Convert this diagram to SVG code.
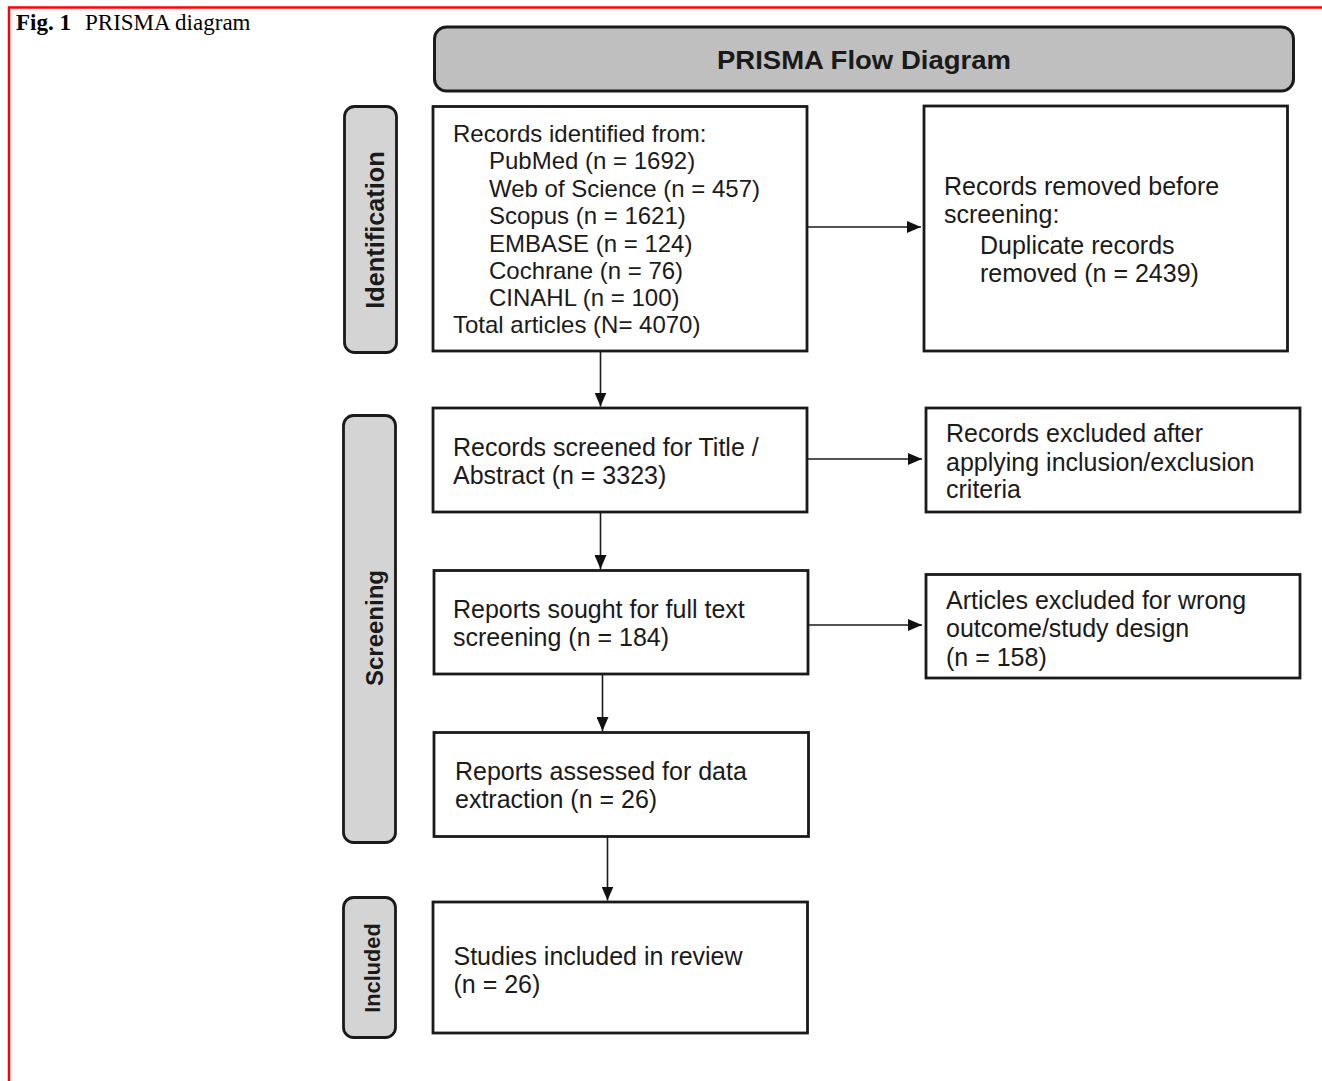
<svg xmlns="http://www.w3.org/2000/svg" width="1322" height="1081" viewBox="0 0 1322 1081">
<defs>
<marker id="ah" viewBox="0 0 14 12" refX="14" refY="6" markerWidth="14" markerHeight="12" markerUnits="userSpaceOnUse" orient="auto">
<path d="M0,0 L14,6 L0,12 Z" fill="#111"/>
</marker>
<style>
.box{fill:#fff;stroke:#1a1a1a;stroke-width:2.8}
.pill{fill:#d4d4d4;stroke:#1a1a1a;stroke-width:2.8}
.t{font-family:"Liberation Sans",Arial,sans-serif;font-size:25px;fill:#1a1a1a}
.t1{font-size:24px}
.pt{font-family:"Liberation Sans",Arial,sans-serif;font-size:24px;font-weight:bold;fill:#1a1a1a;text-anchor:middle}
.con{stroke:#1a1a1a;stroke-width:1.6;fill:none;marker-end:url(#ah)}
</style>
</defs>
<rect width="1322" height="1081" fill="#fff"/>
<path d="M1322,7.5 H9 V1081" fill="none" stroke="#f00" stroke-width="2.5"/>
<text x="16" y="30" font-family="Liberation Serif,Times New Roman,serif" font-size="23" fill="#000"><tspan font-weight="bold">Fig. 1</tspan><tspan x="85">PRISMA diagram</tspan></text>

<g id="title">
<rect x="434.5" y="27" width="859" height="64" rx="12" fill="#bfbfbf" stroke="#1a1a1a" stroke-width="3"/>
<text x="864" y="68.5" class="pt" style="font-size:26.5px" textLength="294" lengthAdjust="spacingAndGlyphs">PRISMA Flow Diagram</text>
</g>

<g id="identification">
<rect class="pill" x="344.5" y="106.5" width="52" height="246" rx="10"/>
<text class="pt" style="font-size:25.3px" transform="translate(384,230) rotate(-90)">Identification</text>
</g>
<g id="screening">
<rect class="pill" x="343.5" y="415.5" width="52" height="427" rx="10"/>
<text class="pt" transform="translate(383,628) rotate(-90)">Screening</text>
</g>
<g id="included">
<rect class="pill" x="343.5" y="897.5" width="52" height="140" rx="10"/>
<text class="pt" style="font-size:21.8px" transform="translate(380,968) rotate(-90)">Included</text>
</g>

<g id="records-identified">
<rect class="box" x="433" y="106.5" width="374" height="244.5"/>
<text class="t t1" x="453" y="141.5">Records identified from:</text>
<text class="t t1" x="489" y="168.5">PubMed (n = 1692)</text>
<text class="t t1" x="489" y="196.5">Web of Science (n = 457)</text>
<text class="t t1" x="489" y="223.5">Scopus (n = 1621)</text>
<text class="t t1" x="489" y="251.5">EMBASE (n = 124)</text>
<text class="t t1" x="489" y="278.5">Cochrane (n = 76)</text>
<text class="t t1" x="489" y="306">CINAHL (n = 100)</text>
<text class="t t1" x="453" y="333">Total articles (N= 4070)</text>
</g>
<g id="records-removed">
<rect class="box" x="924" y="106" width="363.5" height="245"/>
<text class="t" x="944" y="194.5">Records removed before</text>
<text class="t" x="944" y="223">screening:</text>
<text class="t" x="980" y="253.5">Duplicate records</text>
<text class="t" x="980" y="281.5">removed (n = 2439)</text>
</g>
<g id="records-screened">
<rect class="box" x="433" y="408" width="374" height="104"/>
<text class="t" x="453" y="455.5">Records screened for Title /</text>
<text class="t" x="453" y="484">Abstract (n = 3323)</text>
</g>
<g id="records-excluded">
<rect class="box" x="926" y="408" width="374" height="104"/>
<text class="t" x="946" y="442">Records excluded after</text>
<text class="t" x="946" y="470.5">applying inclusion/exclusion</text>
<text class="t" x="946" y="498">criteria</text>
</g>
<g id="reports-sought">
<rect class="box" x="434" y="570.5" width="374" height="103.5"/>
<text class="t" x="453" y="617.5">Reports sought for full text</text>
<text class="t" x="453" y="646">screening (n = 184)</text>
</g>
<g id="articles-excluded">
<rect class="box" x="926" y="574.5" width="374" height="103.5"/>
<text class="t" x="946" y="608.5">Articles excluded for wrong</text>
<text class="t" x="946" y="637">outcome/study design</text>
<text class="t" x="946" y="665.5">(n = 158)</text>
</g>
<g id="reports-assessed">
<rect class="box" x="434" y="732.5" width="374.5" height="104"/>
<text class="t" x="455" y="779.5">Reports assessed for data</text>
<text class="t" x="455" y="807.5">extraction (n = 26)</text>
</g>
<g id="studies-included">
<rect class="box" x="433" y="902" width="374.5" height="131"/>
<text class="t" x="453.5" y="964.5">Studies included in review</text>
<text class="t" x="453.5" y="992.5">(n = 26)</text>
</g>

<g id="connectors">
<line class="con" x1="807" y1="227" x2="921" y2="227"/>
<line class="con" x1="600.5" y1="351" x2="600.5" y2="406.5"/>
<line class="con" x1="807" y1="459" x2="922" y2="459"/>
<line class="con" x1="600.5" y1="512" x2="600.5" y2="569"/>
<line class="con" x1="808" y1="625" x2="922" y2="625"/>
<line class="con" x1="602.5" y1="674" x2="602.5" y2="731"/>
<line class="con" x1="607.5" y1="836.5" x2="607.5" y2="900.5"/>
</g>
</svg>
